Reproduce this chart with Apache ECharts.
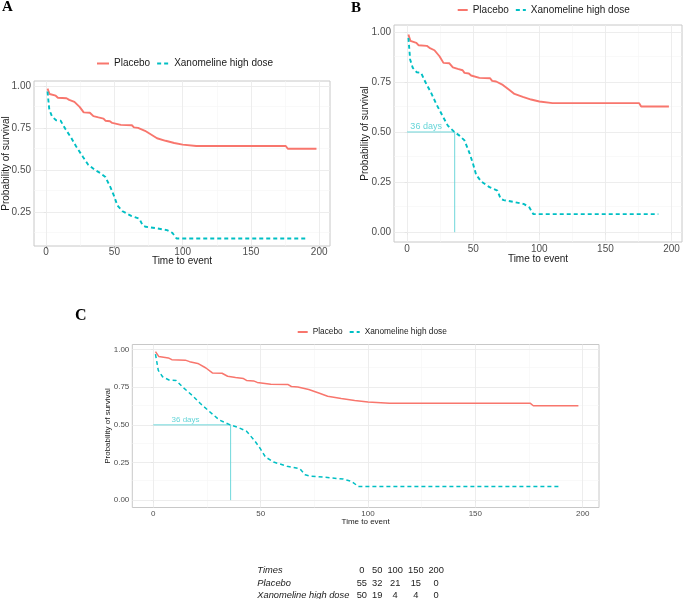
<!DOCTYPE html>
<html>
<head>
<meta charset="utf-8">
<script src="https://cdn.jsdelivr.net/npm/echarts@6/dist/echarts.min.js"></script>
<style>
html,body{margin:0;padding:0;background:#fff;}
#chart{width:685px;height:599px;}
</style>
</head>
<body>
<div id="chart"></div>
<script>
// ---- data ----
const groupNames = ['Placebo', 'Xanomeline high dose'];
const placeboTime = [1, 2.5, 7, 8.6, 14.9, 16.9, 20.7, 24.5, 27.5, 32, 34.6, 38.3, 42, 43.4, 46.7, 48.4, 54.7, 62.8, 64.3, 67.3, 72.4, 77.4, 81.2, 87.5, 93.8, 100, 110, 175.5, 177, 198];
const placeboSurv = [0.987, 0.955, 0.945, 0.933, 0.93, 0.92, 0.908, 0.878, 0.845, 0.843, 0.823, 0.815, 0.808, 0.795, 0.792, 0.782, 0.770, 0.768, 0.755, 0.752, 0.735, 0.71, 0.69, 0.675, 0.662, 0.652, 0.644, 0.644, 0.627, 0.627];
const xanoTime = [1, 2.3, 4.3, 7.3, 10.6, 13.9, 18.2, 21.9, 27, 30.8, 35.8, 39.6, 43.4, 47.2, 49.7, 52.2, 56, 62.3, 68.3, 70.7, 73, 80, 88.5, 92.4, 95.5, 190];
const xanoSurv = [0.97, 0.862, 0.82, 0.798, 0.795, 0.748, 0.695, 0.642, 0.578, 0.532, 0.5, 0.482, 0.458, 0.395, 0.345, 0.287, 0.253, 0.225, 0.208, 0.168, 0.16, 0.152, 0.14, 0.124, 0.09, 0.09];
const medianTime = 36;
const medianSurv = 0.5;
const medianText = '36 days';
const xTicks = [0, 50, 100, 150, 200];
const xMinor = [25, 75, 125, 175];
const yTicksA = [0.25, 0.5, 0.75, 1.0];
const yMinorA = [0.125, 0.375, 0.625, 0.875];
const yTicksBC = [0, 0.25, 0.5, 0.75, 1.0];
const yMinorBC = [0.125, 0.375, 0.625, 0.875];
const tableHeader = 'Times';
const tableTimes = [0, 50, 100, 150, 200];
const riskPlacebo = [55, 32, 21, 15, 0];
const riskXano = [50, 19, 4, 4, 0];

// ---- style ----
const RED = '#F8766D', CYAN = '#00BFC4';
const FONT = 'Liberation Sans, Arial, sans-serif';
const pairs = (t, s) => t.map((v, i) => [v, s[i]]);
const placeboData = pairs(placeboTime, placeboSurv);
const xanoData = pairs(xanoTime, xanoSurv);
const medianPath = [[0, medianSurv], [medianTime, medianSurv], [medianTime, 0]];

const panels = [
  {grid: {left: 32, top: 81, width: 298, height: 165}, x: [-8.9, 207.9], y: [0.045, 1.033], yt: yTicksA, ym: yMinorA,
   fs: 10, tfs: 10, nameGapY: 23, nameGapX: 10.5, lm: 1, lw: 1.9, median: false,
   legend: {left: 96, top: 58.5, itemWidth: 12, fs: 10}},
  {grid: {left: 394, top: 25, width: 288, height: 217}, x: [-9.9, 207.9], y: [-0.049, 1.034], yt: yTicksBC, ym: yMinorBC,
   fs: 10, tfs: 10, nameGapY: 24, nameGapX: 12, lm: 2.5, lw: 1.9, median: true, mfs: 9, mlx: 14.4,
   legend: {left: 456.7, top: 5, itemWidth: 10, fs: 10}},
  {grid: {left: 132.3, top: 344.5, width: 466.7, height: 163}, x: [-9.8, 207.6], y: [-0.049, 1.034], yt: yTicksBC, ym: yMinorBC,
   fs: 8, tfs: 8, nameGapY: 20.5, nameGapX: 10, lm: 2, lw: 1.5, median: true, mfs: 8, mlx: 15,
   legend: {left: 296.7, top: 328, itemWidth: 10, fs: 8.3}}
];

const grid = [], xAxis = [], yAxis = [], series = [], legend = [];
panels.forEach((p, i) => {
  grid.push(Object.assign({show: true, borderColor: '#C8C8C8', borderWidth: 1, backgroundColor: '#fff', containLabel: false}, p.grid));
  xAxis.push({
    type: 'value', gridIndex: i, min: p.x[0], max: p.x[1],
    name: 'Time to event', nameLocation: 'middle', nameGap: p.nameGapX, nameMoveOverlap: false,
    nameTextStyle: {fontFamily: FONT, fontSize: p.tfs, color: '#1a1a1a'},
    axisLine: {show: false},
    axisTick: {show: true, length: 2.5, customValues: xTicks, lineStyle: {color: '#B3B3B3', width: 1}},
    axisLabel: {customValues: xTicks, fontFamily: FONT, fontSize: p.fs, color: '#4D4D4D', margin: p.lm},
    splitLine: {show: false}
  });
  yAxis.push({
    type: 'value', gridIndex: i, min: p.y[0], max: p.y[1],
    name: 'Probability of survival', nameLocation: 'middle', nameGap: p.nameGapY, nameMoveOverlap: false,
    nameTextStyle: {fontFamily: FONT, fontSize: p.tfs, color: '#1a1a1a'},
    axisLine: {show: false},
    axisTick: {show: true, length: 2.5, customValues: p.yt, lineStyle: {color: '#B3B3B3', width: 1}},
    axisLabel: {customValues: p.yt, fontFamily: FONT, fontSize: p.fs, color: '#4D4D4D', margin: 3,
      formatter: v => v.toFixed(2)},
    splitLine: {show: false}
  });
  const gl = [];
  xMinor.forEach(v => gl.push({xAxis: v, lineStyle: {color: '#F5F5F5', width: 0.6}}));
  p.ym.forEach(v => gl.push({yAxis: v, lineStyle: {color: '#F5F5F5', width: 0.6}}));
  xTicks.forEach(v => gl.push({xAxis: v, lineStyle: {color: '#EBEBEB', width: 0.9}}));
  p.yt.forEach(v => gl.push({yAxis: v, lineStyle: {color: '#EBEBEB', width: 0.9}}));
  series.push({
    type: 'line', xAxisIndex: i, yAxisIndex: i, data: [], silent: true, z: 1,
    markLine: {silent: true, z: 1, symbol: ['none', 'none'], label: {show: false}, animation: false,
      lineStyle: {type: 'solid'}, data: gl}
  });
  series.push({
    name: groupNames[0], type: 'line', xAxisIndex: i, yAxisIndex: i, data: placeboData,
    showSymbol: false, symbol: 'none', z: 3, lineStyle: {color: RED, width: p.lw}, itemStyle: {color: RED, opacity: 0}
  });
  series.push({
    name: groupNames[1], type: 'line', xAxisIndex: i, yAxisIndex: i, data: xanoData,
    showSymbol: false, symbol: 'none', z: 3, lineStyle: {color: CYAN, width: p.lw, type: [4, 3]}, itemStyle: {color: CYAN, opacity: 0}
  });
  if (p.median) {
    series.push({
      type: 'line', xAxisIndex: i, yAxisIndex: i, data: medianPath, symbol: 'none', z: 2,
      lineStyle: {color: '#5FD3D6', width: 0.9}
    });
    series.push({
      type: 'scatter', xAxisIndex: i, yAxisIndex: i, data: [[p.mlx, medianSurv]], symbolSize: 0, z: 4,
      label: {show: true, position: 'top', distance: 1, formatter: medianText,
        fontFamily: FONT, fontSize: p.mfs, color: '#3FCBCE'}
    });
  }
  legend.push({
    data: groupNames, left: p.legend.left, top: p.legend.top, padding: 0, itemGap: 6,
    itemWidth: p.legend.itemWidth, itemHeight: 8, selectedMode: false,
    itemStyle: {opacity: 0},
    textStyle: {fontFamily: FONT, fontSize: p.legend.fs, color: '#1a1a1a'}
  });
});

// table + panel letters
const graphic = [];
const letter = (t, x, y, s) => graphic.push({type: 'text', left: x, top: y,
  style: {text: t, font: 'bold ' + s + 'px "Liberation Serif", "Times New Roman", serif', fill: '#000'}});
letter('A', 2, 0, 15);
letter('B', 351, 1, 15);
letter('C', 75, 308, 16);

const rowY = [570.3, 583, 595.4];
const colX = [361.8, 377.2, 395.2, 415.8, 436.2];
const rows = [[tableHeader, tableTimes], [groupNames[0], riskPlacebo], [groupNames[1], riskXano]];
rows.forEach((r, ri) => {
  graphic.push({type: 'text', x: 257.3, y: rowY[ri],
    style: {text: r[0], font: 'italic 9.3px ' + FONT, fill: '#222', textVerticalAlign: 'middle', textAlign: 'left'}});
  r[1].forEach((v, ci) => {
    graphic.push({type: 'text', x: colX[ci], y: rowY[ri],
      style: {text: String(v), font: '9.3px ' + FONT, fill: '#222', textVerticalAlign: 'middle', textAlign: 'center'}});
  });
});

const chart = echarts.init(document.getElementById('chart'), null, {renderer: 'canvas'});
chart.setOption({
  animation: false, backgroundColor: '#fff',
  grid, xAxis, yAxis, series, legend, graphic
});
</script>
</body>
</html>
